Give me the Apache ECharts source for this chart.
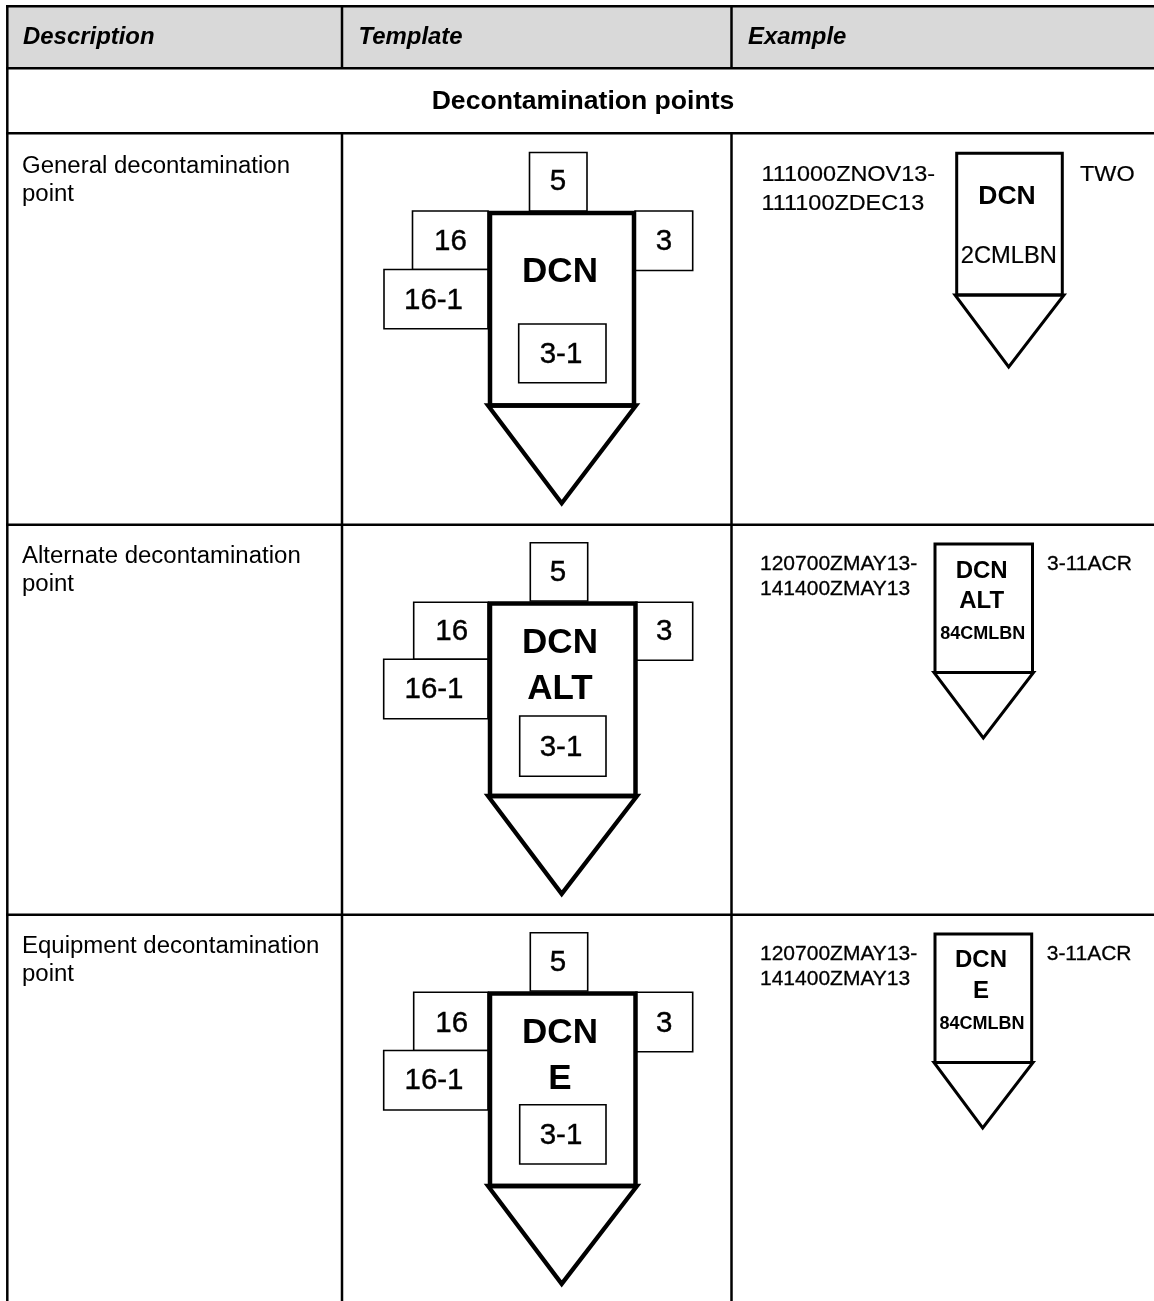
<!DOCTYPE html>
<html>
<head>
<meta charset="utf-8">
<title>Decontamination points</title>
<script src="https://cdn.jsdelivr.net/npm/echarts@6/dist/echarts.min.js"></script>
<style>
  html, body { margin: 0; padding: 0; background: #fff; }
  #main { width: 1154px; height: 1301px; }
</style>
</head>
<body>
<div id="main"></div>
<script>

// [x0, y0, x1, y1]
const headerBand = [[8, 7, 1154, 68]]
const tableRules = [
  [6, 6.2, 1154, 6.2], [6, 68.3, 1154, 68.3], [6, 133.3, 1154, 133.3], [6, 524.7, 1154, 524.7], [6, 914.7, 1154, 914.7],
  [7.3, 6, 7.3, 1301], [342, 6, 342, 68], [342, 133, 342, 1301], [731.5, 6, 731.5, 68], [731.5, 133, 731.5, 1301]
]

// [x0, y0, x1, y1]
const templateTags = [
  [529.5, 152.5, 587, 211], [412.5, 211, 488, 269.5], [384, 269.5, 488, 328.7], [635, 211, 692.7, 270.5], [518.7, 324, 606, 382.7],
  [530.3, 542.7, 587.7, 601], [413.7, 602.3, 488, 659.3], [383.7, 659.3, 488, 718.7], [636, 602.3, 692.7, 660.3], [519.7, 716, 606, 776.3],
  [530.3, 932.7, 587.7, 991], [413.7, 992.3, 488, 1050.5], [383.7, 1050.5, 488, 1110], [636, 992.3, 692.7, 1051.7], [519.7, 1104.7, 606, 1164]
]
const templateFrames = [[490, 213, 634, 405.5], [490, 603.5, 635.5, 796], [490, 993.5, 635.5, 1186]]
const exampleFrames = [[956.7, 153.3, 1062.3, 295], [935, 544, 1032.5, 672.5], [935, 934, 1031.7, 1062.5]]

// [left x, right x, top y, tip x, tip y]
const templateTips = [[488, 636, 405.5, 561.7, 503.2], [488, 637, 796, 561.7, 893.9], [488, 637, 1186, 561.7, 1283.9]]
const exampleTips = [[955, 1064, 295, 1008.7, 367], [934, 1033.5, 672.5, 983.3, 738], [934, 1033, 1062.5, 982.7, 1128]]

// [text, x, y]
const headerLabels = [['Description', 23, 37], ['Template', 358.5, 37], ['Example', 748, 37]]
const sectionLabels = [['Decontamination points', 583, 101]]
const descriptionLabels = [
  ['General decontamination', 22, 166], ['point', 22, 194],
  ['Alternate decontamination', 22, 556], ['point', 22, 584],
  ['Equipment decontamination', 22, 946], ['point', 22, 974]
]
const tagLabels = [
  ['5', 558, 180.5], ['16', 450.5, 240.5], ['3', 664, 241], ['16-1', 433.5, 299.5], ['3-1', 561, 353.5],
  ['5', 558, 571.7], ['16', 451.7, 631], ['3', 664.3, 631], ['16-1', 434, 689], ['3-1', 561, 746.7],
  ['5', 558, 961.7], ['16', 451.7, 1023], ['3', 664.3, 1023], ['16-1', 434, 1080], ['3-1', 561, 1135]
]
const templateCodes = [
  ['DCN', 560, 271.7],
  ['DCN', 560, 642.3], ['ALT', 560, 688.3],
  ['DCN', 560, 1032.3], ['E', 560, 1078]
]
const firstDates = [['111000ZNOV13-', 761.5, 174], ['111100ZDEC13', 761.5, 203], ['TWO', 1080, 174]]
const otherDates = [
  ['120700ZMAY13-', 760, 563], ['141400ZMAY13', 760, 588], ['3-11ACR', 1047, 563],
  ['120700ZMAY13-', 760, 953], ['141400ZMAY13', 760, 978], ['3-11ACR', 1046.7, 953]
]
const firstExampleCode = [['DCN', 1007, 196]]
const exampleCodes = [
  ['DCN', 981.7, 570], ['ALT', 981.7, 600],
  ['DCN', 981, 959.3], ['E', 981, 990]
]
const exampleUnits = [['84CMLBN', 982.7, 633.3], ['84CMLBN', 982, 1023.3]]
const firstExampleUnit = [['2CMLBN', 1008.8, 255.3]]

const FONT = '"Liberation Sans", Arial, sans-serif'
// canvas middle sits a little above the digit centres
const TEXT_SHIFT = 1

function segments(name, data, width) {
  return {
    name, type: 'custom', data, silent: true,
    renderItem(params, api) {
      const a = api.coord([api.value(0), api.value(1)])
      const b = api.coord([api.value(2), api.value(3)])
      return { type: 'line', shape: { x1: a[0], y1: a[1], x2: b[0], y2: b[1] }, style: { stroke: '#000', lineWidth: width } }
    }
  }
}

function boxes(name, data, fill, width) {
  return {
    name, type: 'custom', data, silent: true,
    renderItem(params, api) {
      const a = api.coord([api.value(0), api.value(1)])
      const b = api.coord([api.value(2), api.value(3)])
      return {
        type: 'rect',
        shape: { x: a[0], y: a[1], width: b[0] - a[0], height: b[1] - a[1] },
        style: { fill, stroke: width ? '#000' : null, lineWidth: width }
      }
    }
  }
}

function tips(name, data, width) {
  return {
    name, type: 'custom', data, silent: true,
    renderItem(params, api) {
      const l = api.coord([api.value(0), api.value(2)])
      const r = api.coord([api.value(1), api.value(2)])
      const t = api.coord([api.value(3), api.value(4)])
      return {
        type: 'polygon',
        shape: { points: [l, r, t] },
        style: { fill: '#fff', stroke: '#000', lineWidth: width, lineJoin: 'miter' }
      }
    }
  }
}

function labels(name, data, font, align, stretch, weight) {
  return {
    name, type: 'custom', data, silent: true,
    encode: { x: 1, y: 2 },
    renderItem(params, api) {
      const p = api.coord([api.value(1), api.value(2)])
      return {
        type: 'text',
        x: p[0], y: p[1] + TEXT_SHIFT,
        scaleX: stretch,
        style: {
          text: data[params.dataIndex][0], font, fill: '#000',
          stroke: weight ? '#000' : null, lineWidth: weight,
          textAlign: align, textVerticalAlign: 'middle'
        }
      }
    }
  }
}

const chart = echarts.init(document.getElementById('main'), null, { renderer: 'canvas' })
chart.setOption({
  animation: false,
  backgroundColor: '#fff',
  grid: { left: 0, right: 0, top: 0, bottom: 0 },
  xAxis: { type: 'value', min: 0, max: 1154, show: false },
  yAxis: { type: 'value', min: 0, max: 1301, inverse: true, show: false },
  series: [
    boxes('band', headerBand, '#d9d9d9', 0),
    segments('rules', tableRules, 2.5),
    tips('templateTips', templateTips, 4.3),
    tips('exampleTips', exampleTips, 3),
    boxes('templateTags', templateTags, '#fff', 1.6),
    boxes('templateFrames', templateFrames, 'none', 4.5),
    boxes('exampleFrames', exampleFrames, 'none', 3),
    labels('headers', headerLabels, `italic bold 23px ${FONT}`, 'left', 1.04, 0),
    labels('section', sectionLabels, `bold 25px ${FONT}`, 'center', 1.063, 0),
    labels('descriptions', descriptionLabels, `23px ${FONT}`, 'left', 1.043, 0),
    labels('tagLabels', tagLabels, `29.5px ${FONT}`, 'center', 1, 0.4),
    labels('templateCodes', templateCodes, `bold 35px ${FONT}`, 'center', 1, 0),
    labels('firstDates', firstDates, `22px ${FONT}`, 'left', 1.064, 0.2),
    labels('otherDates', otherDates, `21px ${FONT}`, 'left', 1, 0.3),
    labels('firstExampleCode', firstExampleCode, `bold 26px ${FONT}`, 'center', 1.02, 0),
    labels('exampleCodes', exampleCodes, `bold 24px ${FONT}`, 'center', 1, 0),
    labels('exampleUnits', exampleUnits, `bold 18px ${FONT}`, 'center', 1, 0),
    labels('firstExampleUnit', firstExampleUnit, `23px ${FONT}`, 'center', 1.03, 0.2)
  ]
})

window.onresize = () => {
  chart.resize()
}
</script>
</body>
</html>
